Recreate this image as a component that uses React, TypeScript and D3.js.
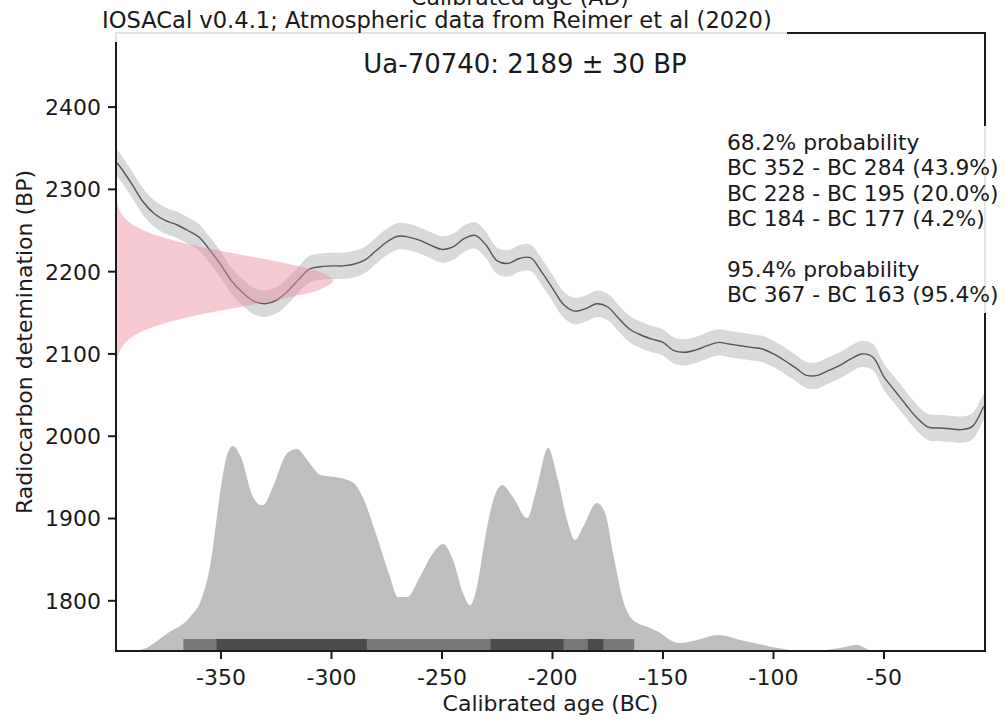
import { useEffect, useRef } from "react";
import * as d3 from "d3";

const WIDTH = 1005;
const HEIGHT = 721;

// calibration curve (IntCal20 atmospheric)
const curveYears = [
  -397, -395, -390, -385, -380, -375, -370, -365, -360, -355, -350, -345, -340,
  -335, -330, -325, -320, -315, -310, -305, -300, -295, -290, -285, -280, -275,
  -270, -265, -260, -255, -250, -245, -240, -235, -230, -225, -220, -215, -210,
  -205, -200, -195, -190, -185, -180, -175, -170, -165, -160, -155, -150, -145,
  -140, -135, -130, -125, -120, -115, -110, -105, -100, -95, -90, -85, -80, -75,
  -70, -65, -60, -55, -50, -45, -40, -35, -30, -25, -20, -15, -10, -5, -4,
];
const curveBP = [
  2332, 2325, 2305, 2284, 2270, 2262, 2257, 2250, 2242, 2226, 2208, 2188, 2174,
  2164, 2161, 2165, 2176, 2190, 2203, 2206, 2207, 2207, 2209, 2214, 2225, 2236,
  2243, 2242, 2238, 2232, 2227, 2230, 2240, 2244, 2232, 2213, 2210, 2216, 2217,
  2200, 2180, 2160, 2152, 2155, 2161, 2157, 2143, 2130, 2123, 2118, 2114, 2104,
  2102, 2105, 2110, 2114, 2112, 2110, 2108, 2106, 2100, 2092, 2083, 2074, 2074,
  2080, 2086, 2094, 2100, 2096, 2072, 2055, 2038, 2022, 2011, 2010, 2009, 2008,
  2012, 2035, 2038,
];
const curveError = 16;

// calibrated probability distribution (relative)
const calYears = [
  -397, -387, -374, -364, -359, -355, -350, -347, -344.6, -341, -335.5, -332,
  -331, -326.5, -320, -315.6, -311, -305, -296, -290, -285.7, -279.4, -273.5,
  -270, -265.8, -260, -254, -249.5, -245, -240.5, -237.3, -234.2, -230.5,
  -228.3, -222.8, -217.9, -211.5, -207, -202, -197.5, -193.4, -189.8, -186.2,
  -179.9, -176.2, -172.6, -168.1, -163.6, -155.9, -151.3, -146.8, -142.3,
  -134.6, -125.1, -115.1, -104.7, -92.5, -83.5, -69.9, -62.2, -55, -4,
];
const calDensity = [
  0, 0.005, 0.088, 0.166, 0.249, 0.41, 0.8, 0.966, 1, 0.946, 0.751, 0.712,
  0.712, 0.8, 0.966, 0.985, 0.932, 0.859, 0.844, 0.82, 0.746, 0.556, 0.361,
  0.263, 0.263, 0.361, 0.478, 0.522, 0.444, 0.283, 0.224, 0.312, 0.55, 0.673,
  0.81, 0.751, 0.649, 0.8, 0.99, 0.834, 0.639, 0.541, 0.605, 0.722, 0.673,
  0.478, 0.249, 0.151, 0.112, 0.088, 0.054, 0.039, 0.054, 0.078, 0.054, 0.029,
  0.005, 0, 0.015, 0.029, 0, 0,
];

// radiocarbon determination 2189 ± 30 BP, drawn along the y axis
const pinkBP = [
  2069, 2079, 2089, 2099, 2109, 2119, 2129, 2139, 2149, 2159, 2169, 2179, 2189,
  2199, 2209, 2219, 2229, 2239, 2249, 2259, 2269, 2279, 2289, 2299, 2309,
];
const pinkWidth = [
  0, 0.001, 0.004, 0.011, 0.029, 0.066, 0.135, 0.25, 0.41, 0.61, 0.8, 0.946, 1,
  0.946, 0.8, 0.61, 0.41, 0.25, 0.135, 0.066, 0.029, 0.011, 0.004, 0.001, 0,
];

const hpd95: [number, number][] = [[-367, -163]];
const hpd68: [number, number][] = [
  [-352, -284],
  [-228, -195],
  [-184, -177],
];

const xTicks = [-350, -300, -250, -200, -150, -100, -50];
const yTicks = [1800, 1900, 2000, 2100, 2200, 2300, 2400];

const probLines = [
  "68.2% probability",
  "BC 352 - BC 284 (43.9%)",
  "BC 228 - BC 195 (20.0%)",
  "BC 184 - BC 177 (4.2%)",
  "",
  "95.4% probability",
  "BC 367 - BC 163 (95.4%)",
];

const FONT = "'DejaVu Sans', Verdana, sans-serif";
const INK = "#1a1a1a";

export default function App() {
  const svgRef = useRef<SVGSVGElement>(null);

  useEffect(() => {
    if (!svgRef.current) return;
    const svg = d3.select(svgRef.current);
    svg.selectAll("*").remove();

    const left = 116;
    const right = 985;
    const top = 33;
    const bottom = 651;

    const x = d3.scaleLinear().domain([-397.5, -4.3]).range([left, right]);
    const y = d3.scaleLinear().domain([1739, 2490]).range([bottom, top]);
    const dens = d3.scaleLinear().domain([0, 1]).range([bottom, 446]);
    const pinkX = d3.scaleLinear().domain([0, 1]).range([left, 333]);

    svg.append("rect").attr("width", WIDTH).attr("height", HEIGHT).attr("fill", "#fff");

    const clip = svg.append("defs").append("clipPath").attr("id", "plot-clip");
    clip.append("rect").attr("x", left).attr("y", top).attr("width", right - left).attr("height", bottom - top);

    const plot = svg.append("g").attr("clip-path", "url(#plot-clip)");

    const curve = curveYears.map((yr, i) => ({ yr, bp: curveBP[i] }));

    // error band of the curve
    plot
      .append("path")
      .datum(curve)
      .attr(
        "d",
        d3
          .area<{ yr: number; bp: number }>()
          .x((d) => x(d.yr))
          .y0((d) => y(d.bp - curveError))
          .y1((d) => y(d.bp + curveError))
          .curve(d3.curveCatmullRom)
      )
      .attr("fill", "#d8d9db");

    plot
      .append("path")
      .datum(curve)
      .attr(
        "d",
        d3
          .line<{ yr: number; bp: number }>()
          .x((d) => x(d.yr))
          .y((d) => y(d.bp))
          .curve(d3.curveCatmullRom)
      )
      .attr("fill", "none")
      .attr("stroke", "#555")
      .attr("stroke-width", 1.4);

    // determination, along the y axis
    const pink = pinkBP.map((bp, i) => ({ bp, w: pinkWidth[i] }));
    plot
      .append("path")
      .datum(pink)
      .attr(
        "d",
        d3
          .area<{ bp: number; w: number }>()
          .y((d) => y(d.bp))
          .x0(left)
          .x1((d) => pinkX(d.w))
          .curve(d3.curveCatmullRom)
      )
      .attr("fill", "#ec8ca2")
      .attr("opacity", 0.47);

    // calibrated distribution
    const cal = calYears.map((yr, i) => ({ yr, p: calDensity[i] }));
    plot
      .append("path")
      .datum(cal)
      .attr(
        "d",
        d3
          .area<{ yr: number; p: number }>()
          .x((d) => x(d.yr))
          .y0(bottom)
          .y1((d) => dens(d.p))
          .curve(d3.curveMonotoneX)
      )
      .attr("fill", "#bdbec0");

    // HPD intervals
    const barH = 12;
    plot
      .selectAll(".hpd95")
      .data(hpd95)
      .enter()
      .append("rect")
      .attr("x", (d) => x(d[0]))
      .attr("width", (d) => x(d[1]) - x(d[0]))
      .attr("y", bottom - barH)
      .attr("height", barH)
      .attr("fill", "#77787a");
    plot
      .selectAll(".hpd68")
      .data(hpd68)
      .enter()
      .append("rect")
      .attr("x", (d) => x(d[0]))
      .attr("width", (d) => x(d[1]) - x(d[0]))
      .attr("y", bottom - barH)
      .attr("height", barH)
      .attr("fill", "#4b4b4d");

    // spines
    svg.append("rect")
      .attr("x", left)
      .attr("y", top)
      .attr("width", right - left)
      .attr("height", bottom - top)
      .attr("fill", "none")
      .attr("stroke", INK)
      .attr("stroke-width", 2);

    // x ticks
    const xt = svg.append("g");
    xTicks.forEach((t) => {
      xt.append("line")
        .attr("x1", x(t)).attr("x2", x(t))
        .attr("y1", bottom).attr("y2", bottom + 8)
        .attr("stroke", INK).attr("stroke-width", 2);
      xt.append("text")
        .attr("x", x(t))
        .attr("y", 685)
        .attr("text-anchor", "middle")
        .attr("font-family", FONT)
        .attr("font-size", 22)
        .attr("fill", INK)
        .text(String(t));
    });

    // y ticks
    const yt = svg.append("g");
    yTicks.forEach((t) => {
      yt.append("line")
        .attr("x1", left - 8).attr("x2", left)
        .attr("y1", y(t)).attr("y2", y(t))
        .attr("stroke", INK).attr("stroke-width", 2);
      yt.append("text")
        .attr("x", 101)
        .attr("y", y(t))
        .attr("dy", "0.36em")
        .attr("text-anchor", "end")
        .attr("font-family", FONT)
        .attr("font-size", 22)
        .attr("fill", INK)
        .text(String(t));
    });

    // axis labels
    svg.append("text")
      .attr("x", (left + right) / 2)
      .attr("y", 711)
      .attr("text-anchor", "middle")
      .attr("font-family", FONT)
      .attr("font-size", 22)
      .attr("fill", INK)
      .text("Calibrated age (BC)");

    svg.append("text")
      .attr("transform", `translate(32,${(top + bottom) / 2}) rotate(-90)`)
      .attr("text-anchor", "middle")
      .attr("font-family", FONT)
      .attr("font-size", 22)
      .attr("fill", INK)
      .text("Radiocarbon detemination (BP)");

    // text boxes (semi-transparent white, as in the source figure)
    svg.append("rect")
      .attr("x", 98).attr("y", 0).attr("width", 689).attr("height", 42)
      .attr("fill", "#fff").attr("opacity", 0.88);
    svg.append("rect")
      .attr("x", 722).attr("y", 126).attr("width", 290).attr("height", 187)
      .attr("fill", "#fff").attr("opacity", 0.88);

    svg.append("text")
      .attr("x", 520)
      .attr("y", 5)
      .attr("text-anchor", "middle")
      .attr("font-family", FONT)
      .attr("font-size", 22)
      .attr("fill", INK)
      .text("Calibrated age (AD)");

    svg.append("text")
      .attr("x", 102)
      .attr("y", 28)
      .attr("font-family", FONT)
      .attr("font-size", 22.6)
      .attr("fill", INK)
      .text("IOSACal v0.4.1; Atmospheric data from Reimer et al (2020)");

    svg.append("text")
      .attr("x", 525)
      .attr("y", 73)
      .attr("text-anchor", "middle")
      .attr("font-family", FONT)
      .attr("font-size", 26)
      .attr("fill", INK)
      .text("Ua-70740: 2189 ± 30 BP");

    const prob = svg.append("g");
    probLines.forEach((s, i) => {
      if (!s) return;
      prob.append("text")
        .attr("x", 727)
        .attr("y", 150 + i * 25.3)
        .attr("font-family", FONT)
        .attr("font-size", 21.8)
        .attr("fill", INK)
        .text(s);
    });
  }, []);

  return (
    <svg
      ref={svgRef}
      width={WIDTH}
      height={HEIGHT}
      style={{ position: "absolute", left: 0, top: 0, display: "block" }}
      role="img"
      aria-label="Radiocarbon calibration plot for Ua-70740"
    />
  );
}
